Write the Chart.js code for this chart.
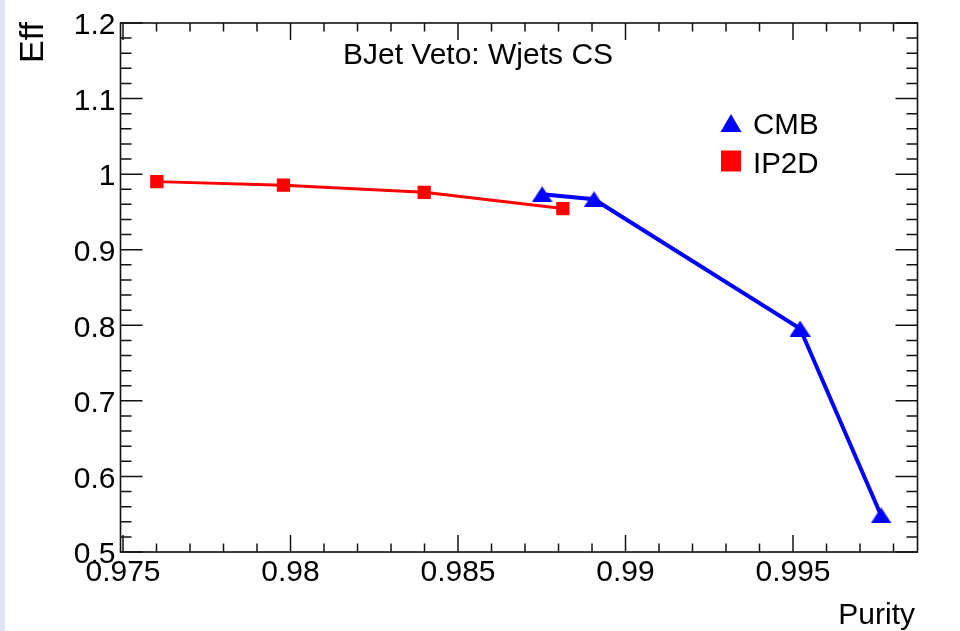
<!DOCTYPE html>
<html>
<head>
<meta charset="utf-8">
<script src="https://cdn.jsdelivr.net/npm/chart.js@4/dist/chart.umd.min.js"></script>
<style>
  html, body { margin: 0; padding: 0; background: #fff; }
  #wrap { width: 960px; height: 631px; position: relative; }
</style>
</head>
<body>
<div id="wrap"><canvas id="c" width="960" height="631"></canvas></div>
<script>
// data
const cmbPurity = [0.98751, 0.98906, 0.99521, 0.99763];
const cmbEff    = [0.9733, 0.9667, 0.7957, 0.5483];
const ip2dPurity = [0.97601, 0.97979, 0.98399, 0.98813];
const ip2dEff    = [0.9901, 0.9854, 0.9760, 0.9545];

const xMajor = [0.975, 0.98, 0.985, 0.99, 0.995];
const yMajor = [0.5, 0.6, 0.7, 0.8, 0.9, 1.0, 1.1, 1.2];

const FONT = "'Liberation Sans', Arial, Helvetica, sans-serif";

// ROOT-like triangle marker
function triMarker(w, h, col) {
    const cv = document.createElement('canvas');
    cv.width = w; cv.height = h;
    const g = cv.getContext('2d');
    g.fillStyle = col;
    g.beginPath();
    g.moveTo(w / 2, 0);
    g.lineTo(w, h);
    g.lineTo(0, h);
    g.closePath();
    g.fill();
    return cv;
}

const toXY = (xs, ys) => xs.map((x, i) => ({ x: x, y: ys[i] }));

// frame, inner ticks, titles and legend in ROOT style
const rootStyle = {
    id: 'rootStyle',
    beforeDraw(chart) {
        const ctx = chart.ctx;
        ctx.save();
        ctx.fillStyle = '#fff';
        ctx.fillRect(0, 0, chart.width, chart.height);
        ctx.fillStyle = '#dfe6f1';
        ctx.fillRect(0, 0, 5, chart.height);
        ctx.restore();
    },
    afterDraw(chart) {
        const ctx = chart.ctx;
        const a = chart.chartArea;
        const xs = chart.scales.x, ys = chart.scales.y;
        ctx.save();
        ctx.strokeStyle = '#111';
        ctx.lineWidth = 1.6;
        ctx.strokeRect(a.left, a.top, a.right - a.left, a.bottom - a.top);

        ctx.lineWidth = 1.5;
        ctx.beginPath();
        // x ticks: minor every 0.001
        for (let k = 974; k <= 999; k++) {
            const v = k / 1000;
            if (v < xs.min || v > xs.max) continue;
            const px = xs.getPixelForValue(v);
            const len = (k % 5 === 0) ? 17 : 8.5;
            ctx.moveTo(px, a.bottom); ctx.lineTo(px, a.bottom - len);
            ctx.moveTo(px, a.top); ctx.lineTo(px, a.top + len);
        }
        // y ticks: minor every 0.02
        for (let k = 25; k <= 60; k++) {
            const v = k / 50;
            const py = ys.getPixelForValue(v);
            const len = (k % 5 === 0) ? 22 : 11;
            ctx.moveTo(a.left, py); ctx.lineTo(a.left + len, py);
            ctx.moveTo(a.right, py); ctx.lineTo(a.right - len, py);
        }
        ctx.stroke();

        ctx.fillStyle = '#000';
        ctx.textBaseline = 'alphabetic';
        // title
        ctx.font = '30px ' + FONT;
        ctx.textAlign = 'center';
        ctx.fillText('BJet Veto: Wjets CS', 478, 64);
        // x title
        ctx.textAlign = 'right';
        ctx.fillText('Purity', 915, 624);
        // y title
        ctx.save();
        ctx.translate(43, 22);
        ctx.rotate(-Math.PI / 2);
        ctx.font = '34px ' + FONT;
        ctx.textAlign = 'right';
        ctx.fillText('Eff', 0, 0);
        ctx.restore();

        // legend
        ctx.fillStyle = '#0000ff';
        ctx.beginPath();
        ctx.moveTo(731, 114); ctx.lineTo(741.5, 132); ctx.lineTo(720.5, 132);
        ctx.closePath(); ctx.fill();
        ctx.fillStyle = '#ff0000';
        ctx.fillRect(721, 150.5, 20, 21);
        ctx.fillStyle = '#000';
        ctx.font = '29.5px ' + FONT;
        ctx.textAlign = 'left';
        ctx.fillText('CMB', 753, 134);
        ctx.fillText('IP2D', 753, 173);
        ctx.restore();
    }
};

new Chart(document.getElementById('c'), {
    type: 'scatter',
    data: {
        datasets: [
            {
                label: 'CMB',
                data: toXY(cmbPurity, cmbEff),
                showLine: true,
                borderColor: '#0000ff',
                borderWidth: 4,
                backgroundColor: '#0000ff',
                pointStyle: triMarker(21, 16, '#0000ff'),
                tension: 0
            },
            {
                label: 'IP2D',
                data: toXY(ip2dPurity, ip2dEff),
                showLine: true,
                borderColor: '#ff0000',
                borderWidth: 3,
                backgroundColor: '#ff0000',
                pointStyle: 'rect',
                pointRadius: 9.4,
                pointBorderWidth: 0,
                tension: 0
            }
        ]
    },
    options: {
        responsive: false,
        animation: false,
        layout: { padding: { top: 19.5, right: 42.5, left: 0, bottom: 0 } },
        plugins: {
            legend: { display: false },
            tooltip: { enabled: false }
        },
        scales: {
            x: {
                type: 'linear',
                min: 0.974925,
                max: 0.998716,
                afterFit(s) { s.height = 79; },
                afterBuildTicks(s) { s.ticks = xMajor.map(v => ({ value: v })); },
                grid: { display: false, drawTicks: false },
                border: { display: false },
                ticks: {
                    padding: 3,
                    color: '#000',
                    font: { family: FONT, size: 30 },
                    maxRotation: 0,
                    autoSkip: false,
                    callback: v => String(+v.toFixed(3))
                }
            },
            y: {
                type: 'linear',
                min: 0.5,
                max: 1.2,
                afterFit(s) { s.width = 120.5; },
                afterBuildTicks(s) { s.ticks = yMajor.map(v => ({ value: v })); },
                grid: { display: false, drawTicks: false },
                border: { display: false },
                ticks: {
                    padding: 5,
                    labelOffset: 3,
                    color: '#000',
                    font: { family: FONT, size: 30 },
                    autoSkip: false,
                    callback: v => String(+v.toFixed(2))
                }
            }
        }
    },
    plugins: [rootStyle]
});
</script>
</body>
</html>
